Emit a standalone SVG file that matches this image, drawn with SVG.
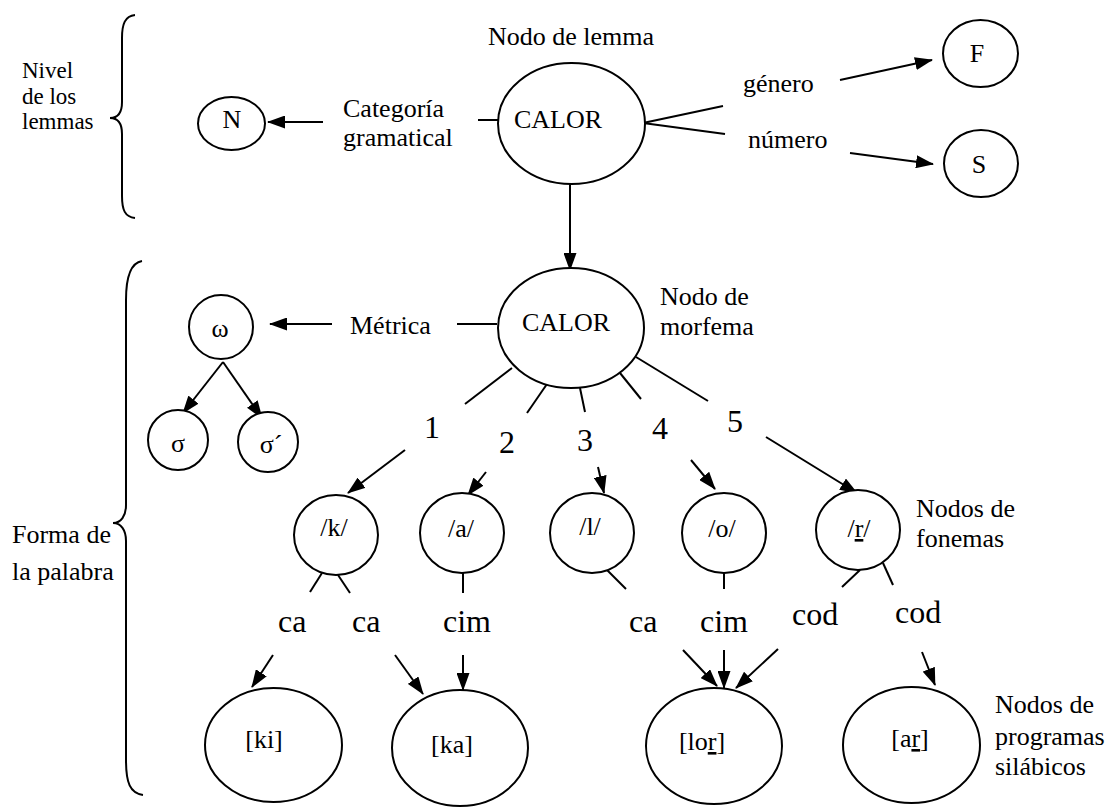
<svg xmlns="http://www.w3.org/2000/svg" width="1108" height="807" viewBox="0 0 1108 807">
  <style>
    text { font-family: "Liberation Serif", "Times New Roman", serif; font-size: 26px; fill: #000; }
    .big { font-size: 32px; }
    .small { font-size: 23px; }
    .mid { text-anchor: middle; }
    .node { fill: #fff; stroke: #000; stroke-width: 2; }
    .ln { stroke: #000; stroke-width: 2; fill: none; }
    .arr { stroke: #000; stroke-width: 2; fill: none; marker-end: url(#ah); }
    .brace { stroke: #000; stroke-width: 2; fill: none; }
  </style>
  <defs>
    <marker id="ah" markerUnits="userSpaceOnUse" markerWidth="18" markerHeight="13" refX="17" refY="6.5" orient="auto">
      <path d="M0,0 L18,6.5 L0,13 z" fill="#000"/>
    </marker>
  </defs>

  <rect width="1108" height="807" fill="#fff"/>

  <!-- level braces and their captions -->
  <g id="level-lemmas">
    <path class="brace" d="M135,15 C125,16 122,24 122,38 L122,102 C122,113 118,118 110,118 C118,118 122,123 122,134 L122,196 C122,210 125,217 135,218"/>
    <text class="small" x="22" y="78">Nivel</text>
    <text class="small" x="22" y="103.5">de los</text>
    <text class="small" x="22" y="129">lemmas</text>
  </g>
  <g id="level-wordform">
    <path class="brace" d="M142,261 C130,263 126,280 126,300 L126,505 C126,516 121,523 113,523 C121,523 126,530 126,541 L126,760 C126,783 130,793 143,795"/>
    <text x="12" y="543">Forma de</text>
    <text x="12" y="580">la palabra</text>
  </g>

  <!-- connectors -->
  <g id="connectors">
    <!-- lemma level -->
    <line class="ln" x1="478" y1="120" x2="500" y2="120"/>
    <line class="arr" x1="323" y1="122" x2="268" y2="122"/>
    <line class="ln" x1="643" y1="123" x2="723" y2="106"/>
    <line class="ln" x1="643" y1="123" x2="725" y2="134"/>
    <line class="arr" x1="840" y1="80" x2="932" y2="60"/>
    <line class="arr" x1="850" y1="153" x2="933" y2="164"/>
    <line class="arr" x1="570" y1="184" x2="570" y2="270"/>
    <!-- metrical frame -->
    <line class="ln" x1="457" y1="324" x2="497" y2="324"/>
    <line class="arr" x1="332" y1="324" x2="270" y2="324"/>
    <line class="arr" x1="223" y1="362" x2="183" y2="413"/>
    <line class="arr" x1="223" y1="362" x2="262" y2="418"/>
    <!-- morpheme spokes -->
    <line class="ln" x1="512" y1="368" x2="465" y2="404"/>
    <line class="ln" x1="547" y1="384" x2="527" y2="413"/>
    <line class="ln" x1="580" y1="388" x2="585" y2="412"/>
    <line class="ln" x1="620" y1="373" x2="641" y2="399"/>
    <line class="ln" x1="636" y1="357" x2="708" y2="401"/>
    <!-- numbered slots to phonemes -->
    <line class="arr" x1="405" y1="450" x2="348" y2="493"/>
    <line class="arr" x1="486" y1="472" x2="468" y2="495"/>
    <line class="arr" x1="598" y1="467" x2="604" y2="493"/>
    <line class="arr" x1="691" y1="460" x2="715" y2="489"/>
    <line class="arr" x1="766" y1="437" x2="857" y2="493"/>
    <!-- phoneme spokes -->
    <line class="ln" x1="322" y1="573" x2="310" y2="592"/>
    <line class="ln" x1="338" y1="575" x2="350" y2="593"/>
    <line class="ln" x1="463" y1="573" x2="463" y2="593"/>
    <line class="ln" x1="607" y1="570" x2="626" y2="589"/>
    <line class="ln" x1="724" y1="573" x2="724" y2="589"/>
    <line class="ln" x1="860" y1="570" x2="842" y2="587"/>
    <line class="ln" x1="883" y1="563" x2="893" y2="585"/>
    <!-- roles to syllable programs -->
    <line class="arr" x1="273" y1="655" x2="252" y2="687"/>
    <line class="arr" x1="395" y1="655" x2="423" y2="694"/>
    <line class="arr" x1="463" y1="655" x2="463" y2="690"/>
    <line class="arr" x1="683" y1="650" x2="717" y2="686"/>
    <line class="arr" x1="724" y1="650" x2="724" y2="688"/>
    <line class="arr" x1="778" y1="649" x2="736" y2="688"/>
    <line class="arr" x1="922" y1="652" x2="935" y2="685"/>
  </g>

  <!-- lemma level nodes -->
  <g id="node-lemma">
    <ellipse class="node" cx="571.5" cy="123.5" rx="73.5" ry="60.5"/>
    <text class="mid" x="558" y="128">CALOR</text>
    <text x="488" y="45">Nodo de lemma</text>
  </g>
  <g id="node-N">
    <ellipse class="node" cx="231.5" cy="123.5" rx="33.5" ry="26.5"/>
    <text class="mid" x="232" y="128">N</text>
  </g>
  <g id="label-categoria">
    <text x="343" y="117">Categoría</text>
    <text x="343" y="146">gramatical</text>
  </g>
  <g id="label-genero"><text x="743" y="92">género</text></g>
  <g id="label-numero"><text x="748" y="148">número</text></g>
  <g id="node-F">
    <ellipse class="node" cx="980.5" cy="53.5" rx="37.5" ry="33.5"/>
    <text class="mid" x="977" y="62">F</text>
  </g>
  <g id="node-S">
    <ellipse class="node" cx="981" cy="163.5" rx="37" ry="33.5"/>
    <text class="mid" x="979" y="173">S</text>
  </g>

  <!-- morpheme node and metrical frame -->
  <g id="node-morpheme">
    <ellipse class="node" cx="571" cy="328" rx="73" ry="60"/>
    <text class="mid" x="566" y="331">CALOR</text>
    <text x="660" y="305">Nodo de</text>
    <text x="660" y="335">morfema</text>
  </g>
  <g id="label-metrica"><text x="350" y="334">Métrica</text></g>
  <g id="node-omega">
    <circle class="node" cx="221" cy="327" r="32"/>
    <text class="mid" x="220" y="337">ω</text>
  </g>
  <g id="node-sigma">
    <circle class="node" cx="178" cy="440" r="30"/>
    <text class="mid" x="178" y="452">σ</text>
  </g>
  <g id="node-sigma-prime">
    <circle class="node" cx="268" cy="442" r="30"/>
    <text class="mid" x="271" y="453">σ´</text>
  </g>

  <!-- slot numbers -->
  <g id="slot-numbers">
    <text class="big mid" x="432" y="438">1</text>
    <text class="big mid" x="507" y="453">2</text>
    <text class="big mid" x="585" y="451">3</text>
    <text class="big mid" x="660" y="439">4</text>
    <text class="big mid" x="735" y="432">5</text>
  </g>

  <!-- phoneme nodes -->
  <g id="node-k">
    <ellipse class="node" cx="336" cy="535" rx="42" ry="40"/>
    <text class="mid" x="334" y="536">/k/</text>
  </g>
  <g id="node-a">
    <ellipse class="node" cx="462" cy="533" rx="42" ry="40"/>
    <text class="mid" x="461" y="537">/a/</text>
  </g>
  <g id="node-l">
    <ellipse class="node" cx="592" cy="533" rx="42" ry="40"/>
    <text class="mid" x="590" y="535">/l/</text>
  </g>
  <g id="node-o">
    <ellipse class="node" cx="724" cy="533" rx="42" ry="40"/>
    <text class="mid" x="722" y="537">/o/</text>
  </g>
  <g id="node-r">
    <ellipse class="node" cx="858" cy="530" rx="42" ry="40"/>
    <text class="mid" x="859" y="537">/<tspan style="text-decoration:underline">r</tspan>/</text>
  </g>
  <g id="label-fonemas">
    <text x="916" y="517">Nodos de</text>
    <text x="916" y="547">fonemas</text>
  </g>

  <!-- syllable roles -->
  <g id="roles">
    <text class="big" x="278" y="632">ca</text>
    <text class="big" x="352" y="632">ca</text>
    <text class="big" x="443" y="632">cim</text>
    <text class="big" x="629" y="632">ca</text>
    <text class="big" x="700" y="632">cim</text>
    <text class="big" x="792" y="625">cod</text>
    <text class="big" x="895" y="623">cod</text>
  </g>

  <!-- syllable program nodes -->
  <g id="node-ki">
    <ellipse class="node" cx="273.5" cy="745" rx="68.5" ry="57"/>
    <text class="mid" x="264" y="748">[ki]</text>
  </g>
  <g id="node-ka">
    <ellipse class="node" cx="460" cy="748" rx="68" ry="58"/>
    <text class="mid" x="452" y="753">[ka]</text>
  </g>
  <g id="node-lor">
    <ellipse class="node" cx="714" cy="746" rx="68" ry="58"/>
    <text class="mid" x="702" y="750">[lo<tspan style="text-decoration:underline">r</tspan>]</text>
  </g>
  <g id="node-ar">
    <ellipse class="node" cx="911.5" cy="745" rx="68.5" ry="58"/>
    <text class="mid" x="910" y="747">[a<tspan style="text-decoration:underline">r</tspan>]</text>
  </g>
  <g id="label-programas">
    <text x="995" y="713">Nodos de</text>
    <text x="995" y="745">programas</text>
    <text x="995" y="775">silábicos</text>
  </g>
</svg>
